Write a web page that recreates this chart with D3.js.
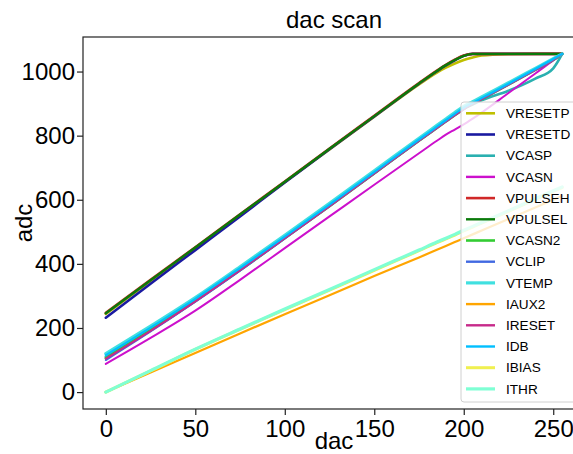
<!DOCTYPE html>
<html>
<head>
<meta charset="utf-8">
<script src="https://cdn.jsdelivr.net/npm/d3@7"></script>
<style>
  html, body { margin: 0; padding: 0; background: #fff; }
  svg { display: block; }
  text { font-family: "Liberation Sans", Arial, Helvetica, sans-serif; fill: #000; }
</style>
</head>
<body>
<div id="chart"></div>
<script>
// ---- data ----
const dacValues = [0, 25, 50, 75, 100, 125, 150, 175, 185, 190, 195, 200, 205, 210, 225, 240, 250, 255];

const seriesNames = ["VRESETP", "VRESETD", "VCASP", "VCASN", "VPULSEH", "VPULSEL", "VCASN2",
                     "VCLIP", "VTEMP", "IAUX2", "IRESET", "IDB", "IBIAS", "ITHR"];
const seriesColors = ["#bfbf00", "#1a1aa0", "#2ab0b0", "#cc10cc", "#d02828", "#0a7a0a", "#33cc33",
                      "#4169e1", "#40e0e0", "#ffa500", "#c72a8a", "#00bfff", "#f0f050", "#7fffd4"];
const seriesWidths = [2.6, 2.6, 2.6, 2, 2.6, 2.4, 2.6, 2, 3.2, 2.2, 2, 2.2, 3, 3.2];

const VRESETP = [244, 347, 450, 552, 655, 757, 859, 960, 997, 1012, 1025, 1036, 1044, 1050, 1054, 1055, 1055, 1055];
const VRESETD = [232, 338, 443, 548, 654, 758, 860, 962, 1001, 1019, 1035, 1049, 1055, 1055, 1055, 1055, 1055, 1055];
const VCASP   = [110, 197, 287, 383, 483, 583, 684, 786, 826, 846, 866, 884, 897, 910, 940, 978, 1010, 1055];
const VCASN   = [88, 169, 254, 350, 449, 548, 647, 745, 784, 803, 819, 835, 853, 872, 933, 994, 1035, 1055];
const VPULSEH = [247, 350, 452, 555, 657, 760, 862, 964, 1003, 1021, 1037, 1050, 1055, 1055, 1055, 1055, 1055, 1055];
const VPULSEL = [246, 349, 451, 554, 656, 759, 861, 963, 1002, 1020, 1036, 1049, 1055, 1055, 1055, 1055, 1055, 1055];
const VCASN2  = [106, 193, 284, 380, 480, 580, 682, 784, 824, 844, 864, 883, 899, 914, 959, 1005, 1036, 1055];
const VCLIP   = [100, 189, 282, 379, 479, 580, 682, 784, 824, 844, 864, 883, 899, 914, 959, 1005, 1036, 1055];
const VTEMP   = [120, 206, 295, 391, 489, 589, 690, 792, 832, 852, 872, 891, 906, 921, 965, 1010, 1040, 1055];
const IAUX2   = [0, 61, 122, 183, 243, 302, 362, 420, 444, 456, 468, 480, 492, 504, 540, 576, 600, 612];
const IRESET  = [104, 191, 283, 380, 480, 580, 682, 784, 824, 844, 864, 883, 899, 914, 959, 1005, 1036, 1055];
const IDB     = [115, 201, 291, 387, 485, 585, 686, 788, 828, 848, 868, 887, 902, 917, 962, 1008, 1039, 1055];
const IBIAS   = [0, 66, 133, 196, 257, 318, 380, 441, 466, 478, 490, 503, 515, 527, 564, 601, 626, 638];
const ITHR    = [0, 67, 134, 197, 259, 320, 382, 443, 468, 480, 492, 505, 517, 529, 566, 603, 628, 640];

const seriesValues = [VRESETP, VRESETD, VCASP, VCASN, VPULSEH, VPULSEL, VCASN2,
                      VCLIP, VTEMP, IAUX2, IRESET, IDB, IBIAS, ITHR];

const xTicks = [0, 50, 100, 150, 200, 250];
const yTicks = [0, 200, 400, 600, 800, 1000];
const titleText = "dac scan";
const xLabel = "dac";
const yLabel = "adc";

// ---- layout ----
const W = 573, H = 454;
const plot = { left: 83, right: 585, top: 37, bottom: 409 };

const svg = d3.select("#chart").append("svg")
  .attr("width", W).attr("height", H);

const x = d3.scaleLinear().domain([-12.75, 267.75]).range([plot.left, plot.right]);
const y = d3.scaleLinear().domain([-52.75, 1107.75]).range([plot.bottom, plot.top]);

svg.append("defs").append("clipPath").attr("id", "clip")
  .append("rect").attr("x", plot.left).attr("y", plot.top)
  .attr("width", plot.right - plot.left).attr("height", plot.bottom - plot.top);

// lines
const line = d3.line().x((d, i) => x(dacValues[i])).y(d => y(d)).curve(d3.curveMonotoneX);
const gLines = svg.append("g").attr("clip-path", "url(#clip)");
seriesValues.forEach((vals, k) => {
  gLines.append("path")
    .datum(vals)
    .attr("d", line)
    .attr("fill", "none")
    .attr("stroke", seriesColors[k])
    .attr("stroke-width", seriesWidths[k])
    .attr("stroke-linejoin", "round")
    .attr("stroke-linecap", "round");
});

// frame
svg.append("rect")
  .attr("x", plot.left).attr("y", plot.top)
  .attr("width", plot.right - plot.left).attr("height", plot.bottom - plot.top)
  .attr("fill", "none").attr("stroke", "#222").attr("stroke-width", 1.2);

// axes
const xAxis = d3.axisBottom(x).tickValues(xTicks).tickSize(6).tickPadding(5).tickFormat(d3.format("d"));
const gx = svg.append("g").attr("transform", `translate(0,${plot.bottom})`).call(xAxis);
const yAxis = d3.axisLeft(y).tickValues(yTicks).tickSize(6).tickPadding(2).tickFormat(d3.format("d"));
const gy = svg.append("g").attr("transform", `translate(${plot.left},0)`).call(yAxis);
[gx, gy].forEach(g => {
  g.select(".domain").remove();
  g.selectAll(".tick line").attr("stroke", "#222").attr("stroke-width", 1.2);
  g.selectAll(".tick text").style("font-size", "24px").attr("fill", "#000")
    .style("font-family", '"Liberation Sans", Arial, sans-serif');
});

// title & labels
svg.append("text").attr("x", (plot.left + plot.right) / 2).attr("y", 28)
  .attr("text-anchor", "middle").style("font-size", "24px").text(titleText);
svg.append("text").attr("x", (plot.left + plot.right) / 2).attr("y", 449)
  .attr("text-anchor", "middle").style("font-size", "24px").text(xLabel);
svg.append("text").attr("transform", `translate(32,${(plot.top + plot.bottom) / 2}) rotate(-90)`)
  .attr("text-anchor", "middle").style("font-size", "24px").text(yLabel);

// legend
const lg = svg.append("g").attr("transform", "translate(461,102)");
lg.append("rect").attr("x", 0).attr("y", 0).attr("width", 130).attr("height", 300)
  .attr("rx", 3).attr("fill", "#fff").attr("fill-opacity", 0.8)
  .attr("stroke", "#d0d0d0").attr("stroke-width", 1);
seriesNames.forEach((name, k) => {
  const yy = 11.3 + k * 21.2;
  lg.append("line").attr("x1", 5).attr("x2", 34).attr("y1", yy).attr("y2", yy)
    .attr("stroke", seriesColors[k]).attr("stroke-width", Math.max(2.4, seriesWidths[k]));
  lg.append("text").attr("x", 45).attr("y", yy).attr("dy", "0.35em")
    .style("font-size", "13.6px").text(name);
});
</script>
</body>
</html>
